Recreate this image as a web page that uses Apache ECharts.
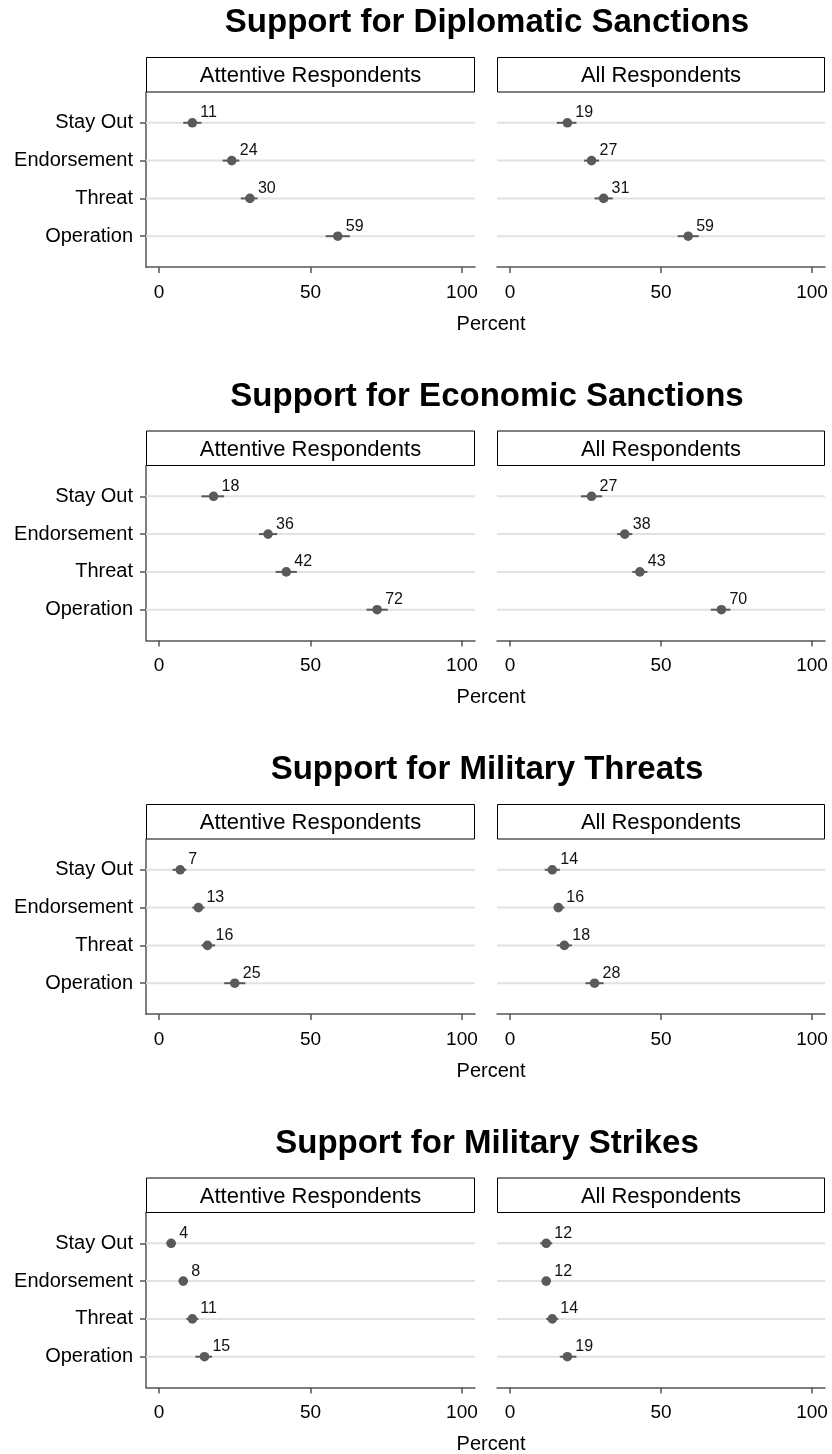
<!DOCTYPE html>
<html>
<head>
<meta charset="utf-8">
<title>Support for Sanctions and Military Action</title>
<script src="https://cdn.jsdelivr.net/npm/echarts@6/dist/echarts.min.js"></script>
<style>
  html, body { margin: 0; padding: 0; background: #fff; }
  #chart { width: 832px; height: 1454px; }
</style>
</head>
<body>
<div id="chart"></div>
<script>
// Outcome categories (top to bottom) and axis ticks
const categories = ['Stay Out', 'Endorsement', 'Threat', 'Operation'];
const panelTitles = [
  'Support for Diplomatic Sanctions',
  'Support for Economic Sanctions',
  'Support for Military Threats',
  'Support for Military Strikes'
];
const facetNames = ['Attentive Respondents', 'All Respondents'];
const xTicks = [0, 50, 100];
const xAxisTitle = 'Percent';

// Point estimates (percent) and 95% intervals [low, high]
const diplomaticAttentive = [11, 24, 30, 59];
const diplomaticAttentiveCI = [[8, 14], [21, 26.5], [27, 32.5], [55, 63]];
const diplomaticAll = [19, 27, 31, 59];
const diplomaticAllCI = [[15.5, 22], [24.5, 29.5], [28, 34], [55.5, 62.5]];

const economicAttentive = [18, 36, 42, 72];
const economicAttentiveCI = [[14, 21.5], [33, 39], [38.5, 45.5], [68.5, 75.5]];
const economicAll = [27, 38, 43, 70];
const economicAllCI = [[23.5, 30.5], [35.5, 40.5], [40.5, 45.5], [66.5, 73]];

const threatsAttentive = [7, 13, 16, 25];
const threatsAttentiveCI = [[4.5, 9], [11, 15], [14, 18.5], [21.5, 28.5]];
const threatsAll = [14, 16, 18, 28];
const threatsAllCI = [[11.5, 16.5], [14.5, 18], [15.5, 20.5], [25, 31]];

const strikesAttentive = [4, 8, 11, 15];
const strikesAttentiveCI = [[2.5, 5.5], [6.5, 9.5], [9, 13], [12, 17.5]];
const strikesAll = [12, 12, 14, 19];
const strikesAllCI = [[10, 14], [10.5, 13.5], [12, 16], [16.5, 22]];

const panelData = [
  [[diplomaticAttentive, diplomaticAttentiveCI], [diplomaticAll, diplomaticAllCI]],
  [[economicAttentive, economicAttentiveCI], [economicAll, economicAllCI]],
  [[threatsAttentive, threatsAttentiveCI], [threatsAll, threatsAllCI]],
  [[strikesAttentive, strikesAttentiveCI], [strikesAll, strikesAllCI]]
];

// ---- layout & styling ----
const FONT = '"Liberation Sans", Arial, Helvetica, sans-serif';
const AXIS_COLOR = '#555';
const MARK_COLOR = '#5a5a5a';
const GRID_COLOR = '#e2e2e2';
const PANEL_STEP = 373.5;
const facetLeft = [146, 497];
const facetWidth = [329, 328];

const grids = [], xAxes = [], yAxes = [], series = [], graphics = [];

function renderPoint(params, api) {
  const v = api.value(0), lo = api.value(1), hi = api.value(2), cat = api.value(3);
  const c = api.coord([v, cat]);
  const l = api.coord([lo, cat]);
  const h = api.coord([hi, cat]);
  const cs = params.coordSys;
  return {
    type: 'group',
    children: [
      { type: 'line', shape: { x1: cs.x, y1: c[1], x2: cs.x + cs.width, y2: c[1] },
        style: { stroke: GRID_COLOR, lineWidth: 2 } },
      { type: 'line', shape: { x1: l[0], y1: c[1], x2: h[0], y2: c[1] },
        style: { stroke: MARK_COLOR, lineWidth: 2 } },
      { type: 'circle', shape: { cx: c[0], cy: c[1], r: 4.8 },
        style: { fill: MARK_COLOR } },
      { type: 'text', x: c[0] + 8, y: c[1] - 10,
        style: { text: String(v), fill: '#111', font: '16px ' + FONT,
                 textAlign: 'left', textVerticalAlign: 'middle' } }
    ]
  };
}

panelData.forEach((facets, p) => {
  const off = p * PANEL_STEP;

  graphics.push({
    type: 'text', x: 487, y: 23 + off, z: 10,
    style: { text: panelTitles[p], font: 'bold 33px ' + FONT, fill: '#000',
             textAlign: 'center', textVerticalAlign: 'middle' }
  });
  graphics.push({
    type: 'text', x: 491, y: 324 + off, z: 10,
    style: { text: xAxisTitle, font: '20px ' + FONT, fill: '#000',
             textAlign: 'center', textVerticalAlign: 'middle' }
  });

  facets.forEach((facet, f) => {
    const idx = grids.length;
    const [vals, ci] = facet;

    // facet strip
    graphics.push({
      type: 'rect', z: 10,
      shape: { x: facetLeft[f] + 0.5, y: 57.5 + off, width: facetWidth[f] - 1, height: 34.5 },
      style: { fill: '#fff', stroke: '#000', lineWidth: 1 }
    });
    graphics.push({
      type: 'text', x: facetLeft[f] + facetWidth[f] / 2, y: 76 + off, z: 11,
      style: { text: facetNames[f], font: '22px ' + FONT, fill: '#000',
               textAlign: 'center', textVerticalAlign: 'middle' }
    });

    grids.push({ left: facetLeft[f], width: facetWidth[f], top: 92 + off, height: 175 });

    xAxes.push({
      type: 'value', gridIndex: idx, min: -4.3, max: 104.3,
      axisLine: { show: true, onZero: false, lineStyle: { color: AXIS_COLOR, width: 1.5 } },
      axisTick: { show: true, customValues: xTicks, length: 6, lineStyle: { color: AXIS_COLOR, width: 1.5 } },
      axisLabel: { customValues: xTicks, fontSize: 19, color: '#000', fontFamily: FONT, margin: 16 },
      splitLine: { show: false }
    });

    yAxes.push({
      type: 'value', gridIndex: idx, min: 0.185, max: 4.815, inverse: true,
      show: f === 0,
      axisLine: { show: true, onZero: false, lineStyle: { color: AXIS_COLOR, width: 1.5 } },
      axisTick: { show: true, customValues: [1, 2, 3, 4], length: 6, lineStyle: { color: AXIS_COLOR, width: 1.5 } },
      axisLabel: {
        customValues: [1, 2, 3, 4], fontSize: 20, color: '#000', fontFamily: FONT, margin: 13,
        formatter: v => categories[Math.round(v) - 1] || ''
      },
      splitLine: { show: false }
    });

    series.push({
      type: 'custom', xAxisIndex: idx, yAxisIndex: idx,
      renderItem: renderPoint, silent: true, clip: false,
      data: vals.map((v, i) => [v, ci[i][0], ci[i][1], i + 1])
    });
  });
});

const chart = echarts.init(document.getElementById('chart'), null, { renderer: 'canvas' });
chart.setOption({
  backgroundColor: '#fff',
  animation: false,
  grid: grids,
  xAxis: xAxes,
  yAxis: yAxes,
  series: series,
  graphic: graphics
});
</script>
</body>
</html>
